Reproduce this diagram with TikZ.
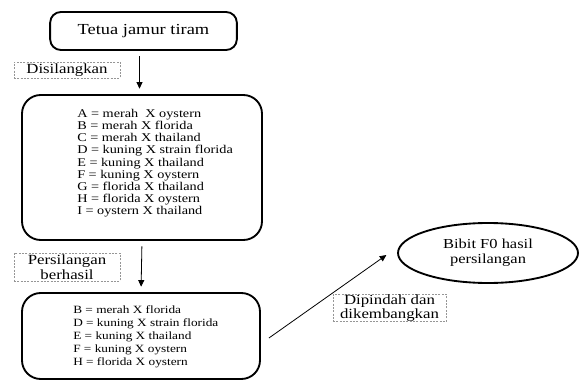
\documentclass[tikz,border=0pt]{standalone}
\usepackage{fontspec}
\setmainfont[FakeStretch=1.2]{Liberation Serif}
\definecolor{DashGray}{RGB}{150,150,150}
\usepackage{tikz}
\usetikzlibrary{arrows.meta, shapes.geometric, positioning, calc}

\tikzset{
  stagebox/.style={draw=black, line width=1.4pt, rounded corners=#1, inner sep=0pt},
  stagebox/.default=14pt,
  notebox/.style={draw=DashGray, dashed, dash pattern=on 1.5pt off 1pt, line width=0.5pt,
        inner sep=0pt, align=center, font=\fontsize{10.5}{11}\selectfont},
  flowarrow/.style={-{Triangle[length=5pt,width=4.5pt]}, line width=0.6pt, black}
}

\begin{document}
\begin{tikzpicture}[x=0.75pt, y=-0.75pt]
  \useasboundingbox (0,0) rectangle (581,381);

  % boxes
  \node[stagebox=8pt, minimum width=140pt, minimum height=28.5pt,
        font=\fontsize{11.5}{13}\selectfont] (parent) at (143.5,31) {Tetua jamur tiram};
  \node[stagebox, minimum width=180pt, minimum height=108.75pt] (cross) at (142,167.5) {};
  \node[stagebox, minimum width=178.5pt, minimum height=64.5pt] (result) at (141,336) {};
  \node[draw=black, line width=1.4pt, ellipse, minimum width=135pt, minimum height=45pt,
        inner sep=0pt, align=center, font=\fontsize{10.3}{11.5}\selectfont] (seed) at (488,253)
        {Bibit F0 hasil\\persilangan};

  % crossing lists
  \node[anchor=north west, inner sep=0pt, align=left, font=\fontsize{8.9}{9.1}\selectfont]
        (crosslist) at (77,109) {%
    A = merah\ \ X oystern\\
    B = merah X florida\\
    C = merah X thailand\\
    D = kuning X strain florida\\
    E = kuning X thailand\\
    F = kuning X oystern\\
    G = florida X thailand\\
    H = florida X oystern\\
    I = oystern X thailand};
  \node[anchor=north west, inner sep=0pt, align=left, font=\fontsize{8.3}{9.9}\selectfont]
        (resultlist) at (73,305) {%
    B = merah X florida\\
    D = kuning X strain florida\\
    E = kuning X thailand\\
    F = kuning X oystern\\
    H = florida X oystern};

  % dashed labels
  \node[notebox, minimum width=79.5pt, minimum height=12pt] (lblcross) at (67,70) {Disilangkan};
  \node[notebox, minimum width=79.5pt, minimum height=21pt] (lblok) at (67,267) {Persilangan\\berhasil};
  \node[notebox, minimum width=85pt, minimum height=19.5pt] (lblmove) at (389.5,308) {Dipindah dan\\dikembangkan};

  % arrows
  \draw[flowarrow, shorten <=4pt, shorten >=4pt] ([xshift=-3pt]parent.south) -- ([xshift=-3pt]parent.south |- cross.north);
  \draw[flowarrow, shorten <=4pt, shorten >=4pt] (cross.south) -- (result.north);
  \draw[flowarrow] ([xshift=6pt,yshift=-1.5pt]result.east) -- ([xshift=-8pt,yshift=-1.5pt]seed.west);
\end{tikzpicture}
\end{document}
